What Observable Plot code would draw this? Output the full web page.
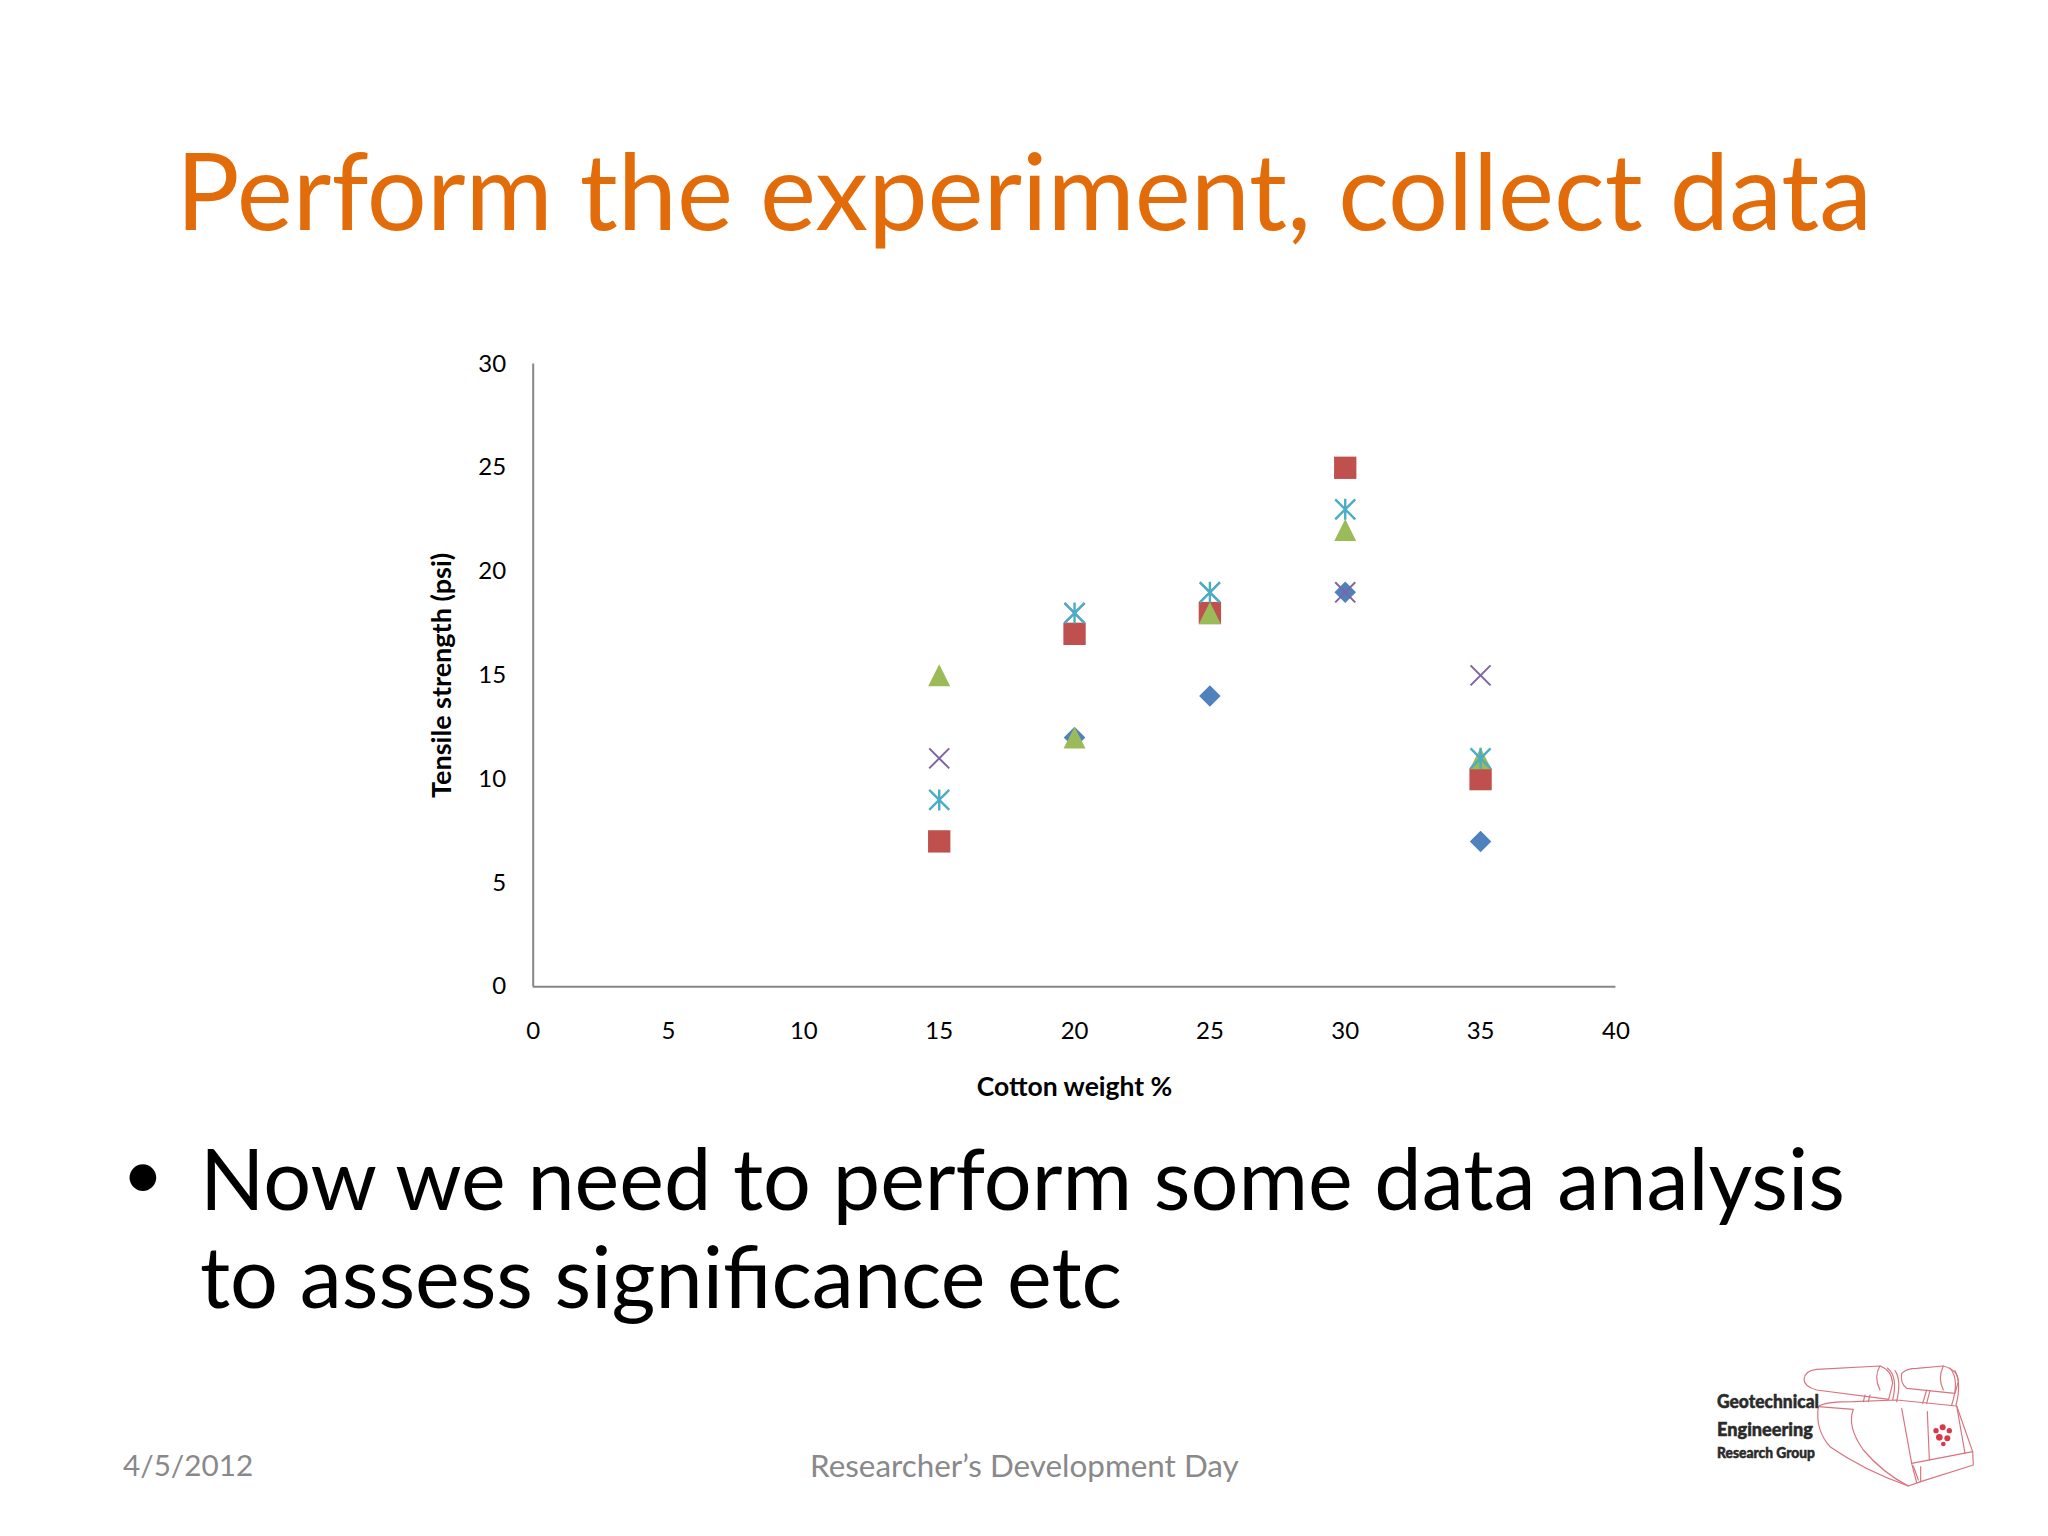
<!DOCTYPE html>
<html>
<head>
<meta charset="utf-8">
<script src="https://cdn.jsdelivr.net/npm/d3@7"></script>
<script src="https://cdn.jsdelivr.net/npm/@observablehq/plot@0.6"></script>
<style>
html,body{margin:0;padding:0;background:#fff;width:2048px;height:1536px;overflow:hidden;font-family:Lato,"Open Sans",sans-serif;}
.abs{position:absolute;white-space:nowrap;}
#chart{position:absolute;left:0;top:300px;}
#title{left:176px;top:129px;font-size:106px;line-height:120px;color:#E36C0A;}
#bullet{left:122px;top:1122px;font-size:72px;line-height:98px;color:#000;}
.body{left:200px;font-size:84.6px;line-height:98px;color:#000;}
.foot{line-height:40px;color:#898989;}
#logo{position:absolute;left:1650px;top:1340px;}
</style>
</head>
<body>
<div id="title" class="abs">Perform the experiment, collect data</div>
<div id="chart"></div>
<div id="bullet" class="abs">•</div>
<div class="abs body" style="top:1128px">Now we need to perform some data analysis</div>
<div class="abs body" style="top:1226px">to assess significance etc</div>
<div class="abs foot" style="left:123px;top:1445px;font-size:29.7px">4/5/2012</div>
<div class="abs foot" style="left:810px;top:1445px;font-size:31.4px">Researcher’s Development Day</div>
<svg id="logo" width="398" height="196" viewBox="0 0 1194 588">
  <g fill="none" stroke="#d9737c" stroke-width="3.5" stroke-linejoin="round" stroke-linecap="round">
    <path d="M500 88 L690 78 Q725 90 728 130 L716 178 L500 150 Q462 140 462 118 Q464 92 500 88Z"/>
    <path d="M690 78 Q670 110 690 150 M712 84 Q745 110 728 180 M735 92 Q755 120 740 185"/>
    <path d="M755 100 Q770 85 800 85 L880 78 Q925 90 925 125 L915 160 L770 145 Q750 130 755 100Z"/>
    <path d="M880 78 Q862 115 880 150 M900 84 Q930 120 905 195 M915 92 Q935 130 918 195"/>
    <path d="M830 150 L818 190 M840 152 L830 190 M645 165 L640 185 M660 165 L655 185"/>
    <path d="M505 200 Q520 185 610 185 L740 180 L920 198 L968 335 L970 375 L812 425 L775 438 Q640 390 540 320 Q495 270 505 200Z"/>
    <path d="M505 200 L610 208 Q590 260 640 330 Q700 400 775 438"/>
    <path d="M755 205 L785 370 L800 428 M832 215 L838 360 M920 198 L945 340"/>
    <path d="M785 370 L968 335 M790 378 L805 420 M812 380 L812 425"/>
  </g>
  <g fill="#d8394a">
    <circle cx="878" cy="262" r="9"/><circle cx="858" cy="272" r="8"/><circle cx="898" cy="272" r="8"/>
    <circle cx="868" cy="292" r="10"/><circle cx="892" cy="295" r="9"/><circle cx="880" cy="312" r="7"/>
  </g>
  <g fill="#2b2b2b" stroke="#2b2b2b" stroke-width="1.5" font-family="Lato, sans-serif" font-weight="900">
    <text x="201" y="205" font-size="58" textLength="306" lengthAdjust="spacingAndGlyphs">Geotechnical</text>
    <text x="201" y="288" font-size="58" textLength="288" lengthAdjust="spacingAndGlyphs">Engineering</text>
    <text x="201" y="353" font-size="44" textLength="294" lengthAdjust="spacingAndGlyphs">Research Group</text>
  </g>
</svg>
<script>
const xValues = [15, 20, 25, 30, 35];
const seriesDiamond  = [7, 12, 14, 19, 7];
const seriesSquare   = [7, 17, 18, 25, 10];
const seriesTriangle = [15, 12, 18, 22, 11];
const seriesCross    = [11, 18, 19, 19, 15];
const seriesStar     = [9, 18, 19, 23, 11];
const xTicks = [0, 5, 10, 15, 20, 25, 30, 35, 40];
const yTicks = [0, 5, 10, 15, 20, 25, 30];
const xTitle = "Cotton weight %";
const yTitle = "Tensile strength (psi)";

const pts = (ys) => xValues.map((x, i) => ({x, y: ys[i]}));

// Excel's star marker: an X with a vertical bar through it
const starSymbol = {
  draw(ctx, size) {
    const r = Math.sqrt(size) * 0.5;
    ctx.moveTo(-r, -r); ctx.lineTo(r, r);
    ctx.moveTo(-r, r); ctx.lineTo(r, -r);
    ctx.moveTo(0, -r * 1.05); ctx.lineTo(0, r * 1.05);
  }
};
const crossSymbol = {
  draw(ctx, size) {
    const r = Math.sqrt(size) * 0.5;
    ctx.moveTo(-r, -r); ctx.lineTo(r, r);
    ctx.moveTo(-r, r); ctx.lineTo(r, -r);
  }
};
// Excel's triangle marker: as wide as tall, centred on its box
const triangleSymbol = {
  draw(ctx, size) {
    const r = Math.sqrt(size) * 0.5;
    ctx.moveTo(0, -r); ctx.lineTo(r, r); ctx.lineTo(-r, r); ctx.closePath();
  }
};

const axisColor = "#868686";
const chart = Plot.plot({
  width: 2048,
  height: 800,
  marginTop: 63.5,
  marginBottom: 113.8,
  marginLeft: 532.7,
  marginRight: 432.6,
  style: {background: "#fff", fontFamily: "Lato, sans-serif", overflow: "visible"},
  x: {domain: [0, 40], ticks: xTicks},
  y: {domain: [0, 30], ticks: yTicks},
  marks: [
    Plot.ruleY([0], {stroke: axisColor, strokeWidth: 2}),
    Plot.ruleX([0], {stroke: axisColor, strokeWidth: 2}),
    Plot.axisX({ticks: xTicks, tickSize: 0, tickPadding: 35, label: null, fontSize: 24, color: "#000"}),
    Plot.axisY({ticks: yTicks, tickSize: 0, tickPadding: 27, label: null, fontSize: 24, color: "#000"}),
    Plot.text([xTitle], {frameAnchor: "bottom", dy: 101, text: d => d, fontSize: 26.5, fontWeight: 700, fill: "#000", lineAnchor: "middle", textAnchor: "middle"}),
    Plot.text([yTitle], {frameAnchor: "left", dx: -91, text: d => d, fontSize: 27, fontWeight: 700, fill: "#000", rotate: -90, lineAnchor: "middle", textAnchor: "middle"}),
    Plot.dot(pts(seriesDiamond), {x: "x", y: "y", symbol: "diamond2", r: 9.7, fill: "#4F81BD", stroke: "none"}),
    Plot.dot(pts(seriesSquare), {x: "x", y: "y", symbol: "square", r: 12.6, fill: "#C0504D", stroke: "none"}),
    Plot.dot(pts(seriesTriangle), {x: "x", y: "y", symbol: triangleSymbol, r: 12.4, fill: "#9BBB59", stroke: "none"}),
    Plot.dot(pts(seriesCross), {x: "x", y: "y", symbol: crossSymbol, r: 11.3, fill: "none", stroke: "#8064A2", strokeWidth: 2}),
    Plot.dot(pts(seriesStar), {x: "x", y: "y", symbol: starSymbol, r: 11.3, fill: "none", stroke: "#4BACC6", strokeWidth: 2.4})
  ]
});
document.getElementById("chart").appendChild(chart);
</script>
</body>
</html>
